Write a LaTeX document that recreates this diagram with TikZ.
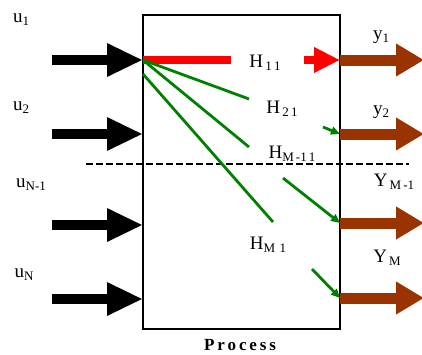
\documentclass[tikz,border=0pt]{standalone}
\usepackage{fontspec}
\setmainfont{Liberation Serif}
\usetikzlibrary{arrows.meta}
\definecolor{brownout}{RGB}{153,51,0}
\definecolor{greenh}{RGB}{0,128,0}
\newcommand{\lowsub}[1]{\raisebox{-0.35ex}{\fontsize{13}{14}\selectfont #1}}
\begin{document}
\begin{tikzpicture}[x=1pt,y=-1pt,
  inarrow/.style={line width=10pt,black,-{Triangle[length=36pt,width=31pt]}},
  outarrow/.style={line width=11pt,brownout,-{Triangle[length=28pt,width=31pt]}},
  redarrow/.style={line width=8pt,red,-{Triangle[length=26pt,width=24pt]}},
  redline/.style={line width=8pt,red},
  greenline/.style={line width=2.8pt,greenh},
  greenarrow/.style={line width=2.8pt,greenh,-{Triangle[length=9pt,width=8pt]}},
  lab/.style={inner sep=0pt,font=\fontsize{19}{21}\selectfont},
  procbox/.style={draw,line width=1.2pt,inner sep=0pt}]
\useasboundingbox (0,0) rectangle (422,354);
% process box
\node[procbox,minimum width=197pt,minimum height=314pt] (proc) at (241.5,172) {};
% coordinates
\coordinate (i1) at (52,60);  \coordinate (e1) at (143,60);
\coordinate (i2) at (52,134); \coordinate (e2) at (143,134);
\coordinate (i3) at (52,225); \coordinate (e3) at (143,225);
\coordinate (i4) at (52,299); \coordinate (e4) at (143,299);
\coordinate (o1) at (340,60);  \coordinate (t1) at (424,60);
\coordinate (o2) at (340,134); \coordinate (t2) at (424,134);
\coordinate (o3) at (340,223); \coordinate (t3) at (424,223);
\coordinate (o4) at (340,298); \coordinate (t4) at (424,298);
% input arrows
\draw[inarrow] (i1) -- (e1);
\draw[inarrow] (i2) -- (e2);
\draw[inarrow] (i3) -- (e3);
\draw[inarrow] (i4) -- (e4);
% output arrows
\draw[outarrow] (o1) -- (t1);
\draw[outarrow] (o2) -- (t2);
\draw[outarrow] (o3) -- (t3);
\draw[outarrow] (o4) -- (t4);
% dashed line
\coordinate (d1) at (86,164); \coordinate (d2) at (409,164);
\draw[line width=1.5pt,dash pattern=on 7pt off 3pt] (d1) -- (d2);
% red path
\coordinate (r1) at (231,60); \coordinate (r2) at (304,60);
\draw[redline] (e1) -- (r1);
\draw[redarrow] (r2) -- (o1);
% green lines
\coordinate (s3) at (143,74);
\coordinate (g1) at (249,99);
\coordinate (g2) at (249,147);
\coordinate (g3) at (273,222);
\draw[greenline] (e1) -- (g1);
\draw[greenline] (e1) -- (g2);
\draw[greenline] (s3) -- (g3);
\coordinate (h1) at (323,127);
\coordinate (h2) at (283,178);
\coordinate (h3) at (312,269);
\draw[greenarrow] (h1) -- (o2);
\draw[greenarrow] (h2) -- (o3);
\draw[greenarrow] (h3) -- (o4);
% labels
\node[lab] (lu1) at (21,20) {u\lowsub{1}};
\node[lab] (lu2) at (21,108) {u\lowsub{2}};
\node[lab] (lu3) at (31,185) {u\lowsub{N-1}};
\node[lab] (lu4) at (24,275) {u\lowsub{N}};
\node[lab] (lh1) at (265,63) {H\lowsub{\,1\,1}};
\node[lab] (lh2) at (282,109) {H\lowsub{\,2\,1}};
\node[lab] (lh3) at (292,154) {H\lowsub{M\,-1\,1}};
\node[lab] (lh4) at (268,245) {H\lowsub{M\,\,1}};
\node[lab] (ly1) at (381,37) {y\lowsub{1}};
\node[lab] (ly2) at (381,112) {y\lowsub{2}};
\node[lab] (ly3) at (394,182) {Y\lowsub{\,M\,-1}};
\node[lab] (ly4) at (387,258) {Y\lowsub{\,M}};
\node[inner sep=0pt,font=\fontsize{17}{19}\selectfont\bfseries] (lp) at (240,345) {P\,r\,o\,c\,e\,s\,s};
\end{tikzpicture}
\end{document}
